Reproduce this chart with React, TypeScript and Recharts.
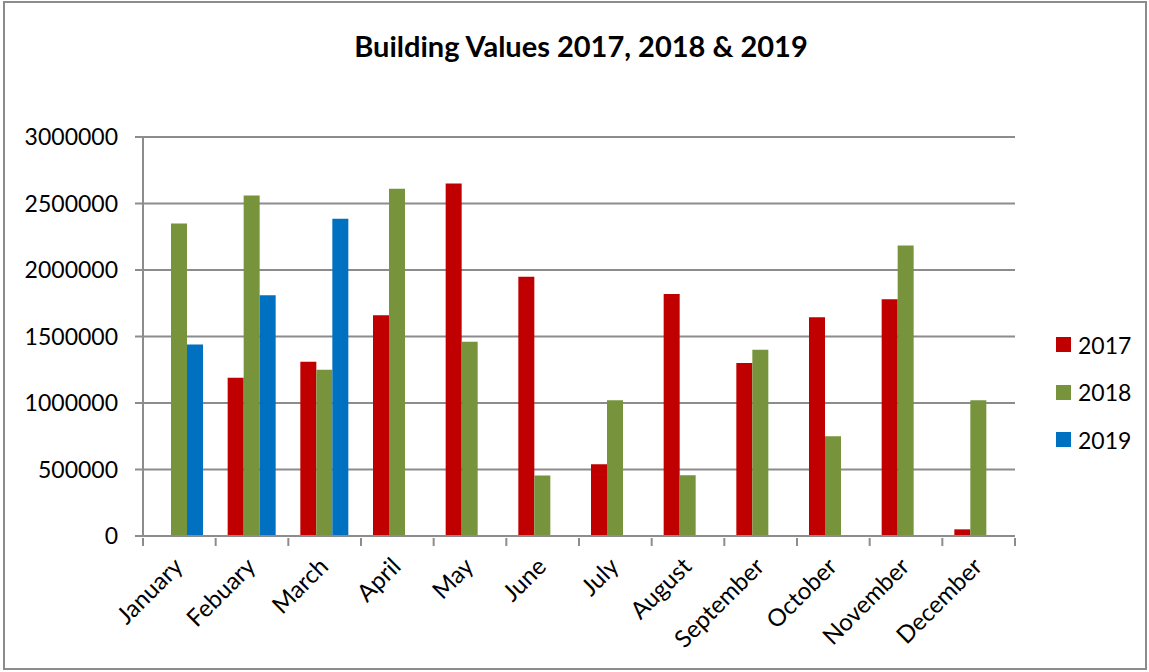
import React from 'react';
import { BarChart, Bar, XAxis, YAxis, CartesianGrid } from 'recharts';

const months = ['January', 'Febuary', 'March', 'April', 'May', 'June', 'July', 'August', 'September', 'October', 'November', 'December'];
const values2017 = [null, 1190000, 1310000, 1660000, 2650000, 1950000, 540000, 1820000, 1300000, 1645000, 1780000, 50000];
const values2018 = [2350000, 2560000, 1250000, 2610000, 1460000, 455000, 1020000, 456000, 1400000, 750000, 2185000, 1020000];
const values2019 = [1440000, 1810000, 2385000, null, null, null, null, null, null, null, null, null];
const yTicks = [0, 500000, 1000000, 1500000, 2000000, 2500000, 3000000];

const series = [
  { key: 'y2017', name: '2017', color: '#C00000' },
  { key: 'y2018', name: '2018', color: '#77933C' },
  { key: 'y2019', name: '2019', color: '#0070C0' },
];

const data = months.map((m, i) => ({
  month: m,
  y2017: values2017[i],
  y2018: values2018[i],
  y2019: values2019[i],
}));

const W = 1149;
const H = 672;
const PLOT_LEFT = 143;
const PLOT_RIGHT = 1015;
const PLOT_TOP = 137;
const PLOT_BOTTOM = 536;
const BAND = (PLOT_RIGHT - PLOT_LEFT) / months.length;
const GRID = '#8c8c8c';
const FONT = 'Lato, "Noto Sans", sans-serif';

const MonthTick = ({ x, y, payload, index }: any) => {
  const ax = x + 5;
  const ay = y + 22;
  return (
    <g>
      <line x1={x - BAND / 2} x2={x - BAND / 2} y1={y - 8} y2={y} stroke={GRID} strokeWidth={2} />
      {index === months.length - 1 && (
        <line x1={x + BAND / 2} x2={x + BAND / 2} y1={y - 8} y2={y} stroke={GRID} strokeWidth={2} />
      )}
      <text
        x={ax}
        y={ay}
        textAnchor="end"
        transform={`rotate(-45 ${ax} ${ay})`}
        fontSize={24}
        fontFamily={FONT}
        fill="#000"
      >
        {payload.value}
      </text>
    </g>
  );
};

export default function App() {
  return (
    <div style={{ position: 'absolute', left: 0, top: 0, width: W, height: H, background: '#fff' }}>
      <div
        style={{
          position: 'absolute',
          left: 3,
          top: 1,
          width: W - 5,
          height: H - 3,
          border: `2px solid ${GRID}`,
          boxSizing: 'border-box',
        }}
      />
      <div
        style={{
          position: 'absolute',
          left: 0,
          top: 28,
          width: 1162,
          textAlign: 'center',
          fontFamily: FONT,
          fontWeight: 700,
          fontSize: 29,
          color: '#000',
        }}
      >
        Building Values 2017, 2018 &amp; 2019
      </div>
      <BarChart
        width={W}
        height={H}
        data={data}
        margin={{ top: PLOT_TOP, right: W - PLOT_RIGHT, bottom: 0, left: 0 }}
        barCategoryGap={12}
        barGap={0}
      >
        <CartesianGrid vertical={false} stroke={GRID} strokeWidth={2} />
        <XAxis
          dataKey="month"
          interval={0}
          height={H - PLOT_BOTTOM}
          axisLine={{ stroke: GRID, strokeWidth: 2 }}
          tickLine={false}
          tickSize={8}
          tick={<MonthTick />}
        />
        <YAxis
          domain={[0, 3000000]}
          ticks={yTicks}
          width={PLOT_LEFT}
          axisLine={{ stroke: GRID, strokeWidth: 2 }}
          tickLine={{ stroke: GRID, strokeWidth: 2 }}
          tickSize={8}
          tickMargin={17}
          tick={{ fontSize: 23, fontFamily: FONT, fill: '#000' }}
          interval={0}
        />
        {series.map((s) => (
          <Bar key={s.key} dataKey={s.key} name={s.name} fill={s.color} isAnimationActive={false} />
        ))}
      </BarChart>
      <div
        style={{
          position: 'absolute',
          left: 1056,
          top: 321,
          fontFamily: FONT,
          fontSize: 23,
          color: '#000',
        }}
      >
        {series.map((s) => (
          <div key={s.key} style={{ display: 'flex', alignItems: 'center', height: 47.5 }}>
            <span style={{ display: 'inline-block', width: 15, height: 15, background: s.color, marginRight: 7 }} />
            <span>{s.name}</span>
          </div>
        ))}
      </div>
    </div>
  );
}
